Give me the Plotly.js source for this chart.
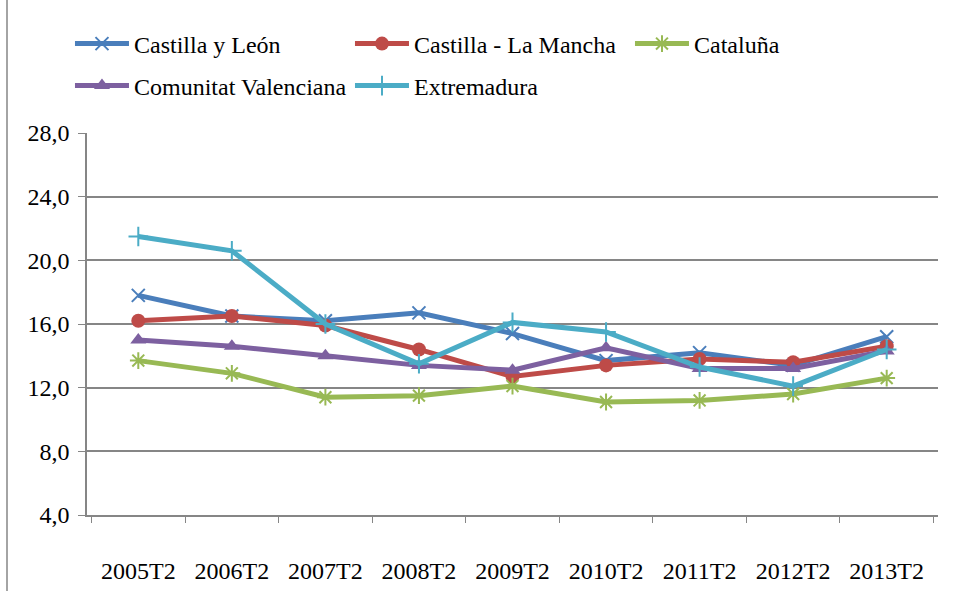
<!DOCTYPE html>
<html>
<head>
<meta charset="utf-8">
<script src="https://cdn.plot.ly/plotly-3.0.1.min.js"></script>
<style>html,body{margin:0;padding:0;background:#fff;font-family:'Liberation Serif';}#chart{width:957px;height:591px;}</style>
</head>
<body>
<div id="chart"></div>
<script>
const categories = ["2005T2","2006T2","2007T2","2008T2","2009T2","2010T2","2011T2","2012T2","2013T2"];
const castillaLeon = [17.8,16.5,16.2,16.7,15.4,13.7,14.2,13.4,15.2];
const castillaMancha = [16.2,16.5,15.9,14.4,12.7,13.4,13.8,13.6,14.6];
const cataluna = [13.7,12.9,11.4,11.5,12.1,11.1,11.2,11.6,12.6];
const valenciana = [15.0,14.6,14.0,13.4,13.1,14.5,13.2,13.2,14.3];
const extremadura = [21.5,20.6,16.0,13.5,16.1,15.5,13.3,12.1,14.4];
const yTicks = [4,8,12,16,20,24,28];

function tr(name, y, color, symbol, size, open, leg) {
  return {
    type: 'scatter', mode: 'lines+markers', name: name, x: categories, y: y, legend: leg,
    line: {color: color, width: 5},
    marker: open ? {symbol: symbol, size: size, color: color, line: {color: color, width: 2}}
                 : {symbol: symbol, size: size, color: color, line: {width: 0}}
  };
}
const data = [
  tr('Castilla y León', castillaLeon, '#4A7EBB', 'x-thin', 13, true, 'legend'),
  tr('Castilla - La Mancha', castillaMancha, '#BE4B48', 'circle', 14, false, 'legend'),
  tr('Cataluña', cataluna, '#98B954', 'asterisk', 14, true, 'legend'),
  tr('Comunitat Valenciana', valenciana, '#7D60A0', 'triangle-up', 14, false, 'legend2'),
  tr('Extremadura', extremadura, '#4BACC6', 'cross-thin', 14, true, 'legend2')
];
function leg(y) {
  return {orientation: 'h', x: -0.02, xanchor: 'left', y: y, yanchor: 'middle',
    entrywidth: 211, entrywidthmode: 'pixels', itemwidth: 54,
    bgcolor: 'rgba(0,0,0,0)'};
}
const layout = {
  width: 957, height: 591,
  margin: {l: 87, r: 19, t: 133, b: 76},
  paper_bgcolor: '#fff', plot_bgcolor: '#fff',
  separators: ',.',
  font: {family: 'Liberation Serif', size: 24, color: '#000'},
  showlegend: true,
  legend: leg(1.233),
  legend2: leg(1.123),
  xaxis: {type: 'category', tickson: 'boundaries', ticks: 'outside', ticklen: 6, tickcolor: '#868686',
    showline: true, linecolor: '#868686', linewidth: 1.5, showgrid: false, zeroline: false,
    ticklabelstandoff: 33, fixedrange: true},
  yaxis: {range: [4, 28], tickvals: yTicks, tickformat: '.1f', ticks: 'outside', ticklen: 7,
    tickcolor: '#868686', showline: true, linecolor: '#868686', linewidth: 1.5,
    showgrid: true, gridcolor: '#868686', gridwidth: 1.5, zeroline: false,
    ticklabelstandoff: 4, fixedrange: true},
  shapes: [{type: 'line', xref: 'paper', yref: 'paper', x0: -0.094, x1: -0.094, y0: -0.2, y1: 1.4,
    line: {color: '#868686', width: 1.5}}]
};
Plotly.newPlot('chart', data, layout, {displayModeBar: false});
</script>
</body>
</html>
